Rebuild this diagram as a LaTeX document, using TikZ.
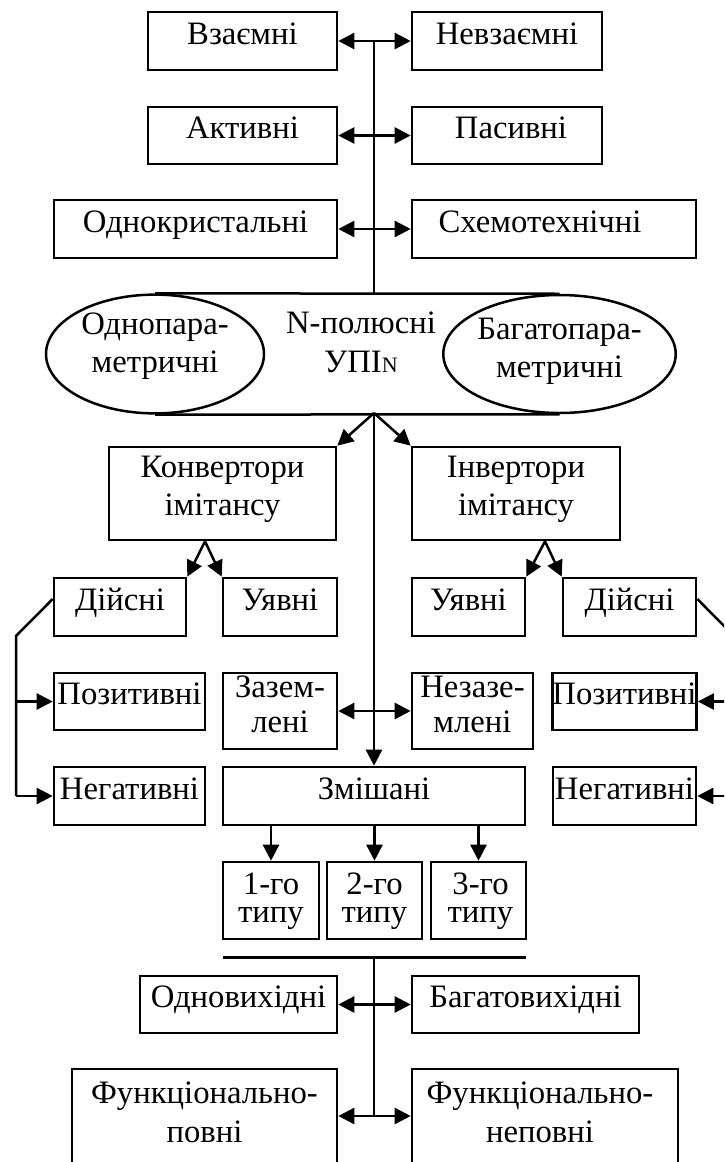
\documentclass[tikz,border=0pt]{standalone}
\usepackage{fontspec}
\setmainfont{Liberation Serif}
\usetikzlibrary{arrows.meta,shapes.geometric}
\newcommand\mktwo[3]{\vbox{\baselineskip=#1pt\lineskip=0pt\lineskiplimit=-1000pt\halign{\hfil##\hfil\cr#2\cr#3\cr}}}
\begin{document}
\begin{tikzpicture}[x=1pt,y=-1pt,
  font=\fontsize{32.7pt}{38pt}\selectfont,
  >={Triangle[length=16pt,width=16pt]},
  bx/.style 2 args={draw, line width=2.6pt, inner sep=0pt, minimum width=#1pt, minimum height=#2pt},
  one/.style={text height=22pt, text depth=16pt},
  th/.style 2 args={text height=#1pt, text depth=#2pt},
  ln/.style={line width=2.5pt},
  ell/.style 2 args={ellipse, draw, line width=2.5pt, inner sep=0pt, minimum width=#1pt, minimum height=#2pt}
]
\useasboundingbox (0,0) rectangle (724,1162);
\clip (0,0) rectangle (724,1162);

% top rows
\node[bx={189}{58},one] (vz)  at (242.5,41) {Взаємні};
\node[bx={190}{58},one] (nvz) at (507,41) {Невзаємні};
\node[bx={189}{57},one] (akt) at (242.5,135.5) {Активні};
\node[bx={190}{57},one] (pas) at (507,135.5) {\kern8pt Пасивні};
\node[bx={283}{58},one] (odn) at (195.5,229) {Однокристальні};
\node[bx={284}{58},one] (sch) at (554,229) {Схемотехнічні\kern28pt};

% N-pole block
\node[ell={218}{118},th={60}{24}] (le) at (155,354) {\mktwo{38}{Однопара-}{метричні}};
\node[ell={229}{118},th={60}{14}] (re) at (559.5,354) {\mktwo{38}{Багатопара-}{метричні}};
\node[inner sep=0pt, outer sep=0pt, minimum width=200pt, minimum height=118pt, th={61}{25}] (upi) at (374,354)
  {\mktwo{39}{N-полюсні}{УПІ{\fontsize{22pt}{22pt}\selectfont N}}\kern26pt};
\draw[line width=2.5pt] (le.north) -- (re.north);
\draw[line width=2.5pt] (le.south) -- (re.south);

% converters / inverters
\node[bx={227}{93},th={60}{17}] (konv) at (222.5,493.5) {\mktwo{38}{Конвертори}{імітансу}};
\node[bx={208}{93},th={60}{17}] (inv)  at (516,493.5) {\mktwo{38}{Інвертори}{імітансу}};

\node[bx={132}{58},one] (dl) at (120,607) {Дійсні};
\node[bx={114}{58},one] (ul) at (280,607) {Уявні};
\node[bx={113}{58},one] (ur) at (468.5,607) {Уявні};
\node[bx={133}{58},one] (dr) at (629.5,607) {Дійсні};

\node[bx={151}{57},one] (pl) at (129.5,701.5) {Позитивні};
\node[bx={114}{76},th={57}{15}] (zaz) at (280,711) {\mktwo{35}{Зазем-}{лені}};
\node[bx={121}{76},th={57}{15}] (nez) at (472.5,711) {\mktwo{35}{Незазе-}{млені}};
\node[bx={143}{57},one] (pr) at (624.5,701.5) {Позитивні};

\node[bx={151}{58},one] (nl)  at (129.5,796) {Негативні};
\node[bx={302}{58},one] (mix) at (374,796) {Змішані};
\node[bx={143}{58},one] (nr)  at (624.5,796) {Негативні};

\node[bx={96}{77},th={50}{7}] (t1) at (271,900.5) {\mktwo{28}{1-го}{типу}};
\node[bx={95}{77},th={50}{7}] (t2) at (374.5,900.5) {\mktwo{28}{2-го}{типу}};
\node[bx={95}{77},th={50}{7}] (t3) at (478.5,900.5) {\kern4pt\mktwo{28}{3-го}{типу}};

\coordinate (barL) at (223,957);
\coordinate (barR) at (526,957);

\node[bx={197}{57},one] (odv) at (238.5,1004.5) {Одновихідні};
\node[bx={227}{57},one] (bgv) at (525.5,1004.5) {Багатовихідні};
\node[bx={265}{111},th={61}{26}] (fp) at (204.5,1124.5) {\mktwo{39}{Функціонально-}{повні}};
\node[bx={266}{111},th={61}{26}] (fn) at (545,1124.5) {\mktwo{39}{Функціонально-}{неповні}\kern10pt};

% connectors: top bus
\draw[ln] (vz.east -| upi.north) -- (upi.north);
\draw[ln,<->] (vz) -- (nvz);
\draw[ln,<->] (akt) -- (pas);
\draw[ln,<->] (odn) -- (sch);

% from N-pole block
\draw[ln,->] (upi.south) -- (konv.north east);
\draw[ln,->] (upi.south) -- (inv.north west);
\draw[ln,->] (upi.south) -- (mix.north);
\draw[ln,<->] (zaz) -- (nez);

% forks
\coordinate (kf) at ([xshift=-17.5pt]konv.south);
\draw[ln,->] (kf) -- (dl.north east);
\draw[ln,->] (kf) -- (ul.north west);
\coordinate (if) at ([xshift=29pt]inv.south);
\draw[ln,->] (if) -- (ur.north east);
\draw[ln,->] (if) -- (dr.north west);

% brackets
\coordinate (lb1) at (16,636);
\draw[ln] ([yshift=8pt]dl.west) -- (lb1) -- (lb1 |- nl.west);
\draw[ln,->] (lb1 |- pl.west) -- (pl.west);
\draw[ln,->] (lb1 |- nl.west) -- (nl.west);
\coordinate (rb1) at (734,636);
\draw[ln] ([yshift=8pt]dr.east) -- (rb1) -- (rb1 |- nr.east);
\draw[ln,->] (rb1 |- pr.east) -- (pr.east);
\draw[ln,->] (rb1 |- nr.east) -- (nr.east);

% mixed types
\draw[ln,->] (t1 |- mix.south) -- (t1.north);
\draw[ln,->] (t2 |- mix.south) -- (t2.north);
\draw[ln,->] (t3 |- mix.south) -- (t3.north);

% bottom bus
\draw[line width=3pt] (barL) -- (barR);
\coordinate (fpa) at ([yshift=8.5pt]fp.east);
\coordinate (fna) at ([yshift=8.5pt]fn.west);
\draw[ln] (upi |- barL) -- (upi |- fpa);
\draw[ln,<->] (odv) -- (bgv);
\draw[ln,<->] (fpa) -- (fna);
\end{tikzpicture}
\end{document}
